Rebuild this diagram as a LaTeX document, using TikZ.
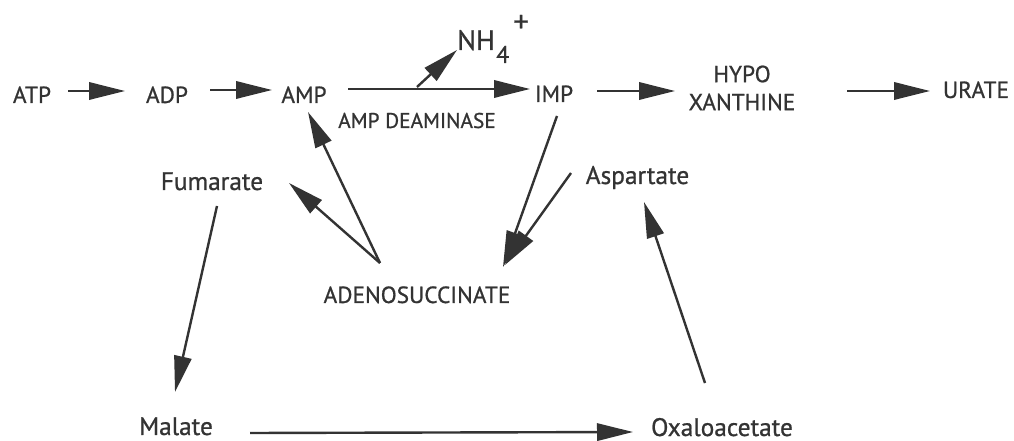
\documentclass[tikz,border=0pt]{standalone}
\usepackage{fontspec}
\setmainfont{PT Sans}
\newfontfamily\inkfont{PT Sans}[FakeBold=0.8]
\usetikzlibrary{arrows.meta}
\definecolor{ink}{HTML}{333333}
\begin{document}
\begin{tikzpicture}[x=0.75pt,y=-0.75pt,
  lbl/.style={anchor=base,inner sep=0pt,text=ink,font=\inkfont\fontsize{17.5}{21}\selectfont},
  sm/.style={lbl,font=\inkfont\fontsize{19}{21}\selectfont},
  arr/.style={draw=ink,line width=1.8pt,-{Triangle[length=27pt,width=13pt]}}]
\useasboundingbox[fill=white] (0,0) rectangle (1014,441);
% nodes
\node[lbl] (atp) at (32,103) {ATP};
\node[lbl] (adp) at (167,103) {ADP};
\node[lbl] (amp) at (304,103) {AMP};
\node[lbl] (imp) at (554,102) {IMP};
\node[lbl,anchor=center,align=center] (hx) at (742,88) {HYPO\\XANTHINE};
\node[lbl] (urate) at (976,98) {URATE};
\node[lbl,font=\inkfont\fontsize{16}{19}\selectfont] (deam) at (417,128) {AMP DEAMINASE};
\node[anchor=base west,inner sep=0pt,text=ink,font=\inkfont] (nh) at (457,50)
  {\fontsize{21}{21}\selectfont NH\kern1pt\raisebox{-9.75pt}{\fontsize{18}{18}\selectfont 4}\kern3pt\raisebox{13.5pt}{\fontsize{23}{23}\selectfont +}};
\node[sm] (fum) at (212,190) {Fumarate};
\node[sm] (asp) at (637.5,184) {Aspartate};
\node[lbl] (adeno) at (417,303) {ADENOSUCCINATE};
\node[sm] (mal) at (176,435) {Malate};
\node[sm] (oxa) at (722,436) {Oxaloacetate};
% connectors
\draw[arr] ([shift={(36,-12)}]atp.base) -- ([shift={(-42,-12)}]adp.base);
\draw[arr] ([shift={(43,-13)}]adp.base) -- ([shift={(-32,-13)}]amp.base);
\draw[arr] ([shift={(44,-14)}]amp.base) -- ([shift={(-24,-13)}]imp.base);
\coordinate (br) at ([shift={(113,-16)}]amp.base);
\draw[arr] (br) -- (nh.base west);
\draw[arr] ([shift={(43,-11)}]imp.base) -- ([shift={(-67,3)}]hx.center);
\draw[arr] ([shift={(105,3)}]hx.center) -- ([shift={(-46,-7)}]urate.base);
\draw[arr] ([shift={(-37,-40)}]adeno.base) -- ([shift={(4,9)}]amp.base);
\draw[arr] ([shift={(-37,-40)}]adeno.base) -- ([shift={(77,-7)}]fum.base);
\draw[arr] ([shift={(3,14)}]imp.base) -- ([shift={(86,-36)}]adeno.base);
\draw[arr] ([shift={(-66.5,-11)}]asp.base) -- ([shift={(88,-38)}]adeno.base);
\draw[arr] ([shift={(5,16)}]fum.base) -- ([shift={(-1,-43)}]mal.base);
\draw[arr] ([shift={(74,-2)}]mal.base) -- ([shift={(-89,-4)}]oxa.base);
\draw[arr] ([shift={(-17,-53)}]oxa.base) -- ([shift={(6.5,18)}]asp.base);
\end{tikzpicture}
\end{document}
